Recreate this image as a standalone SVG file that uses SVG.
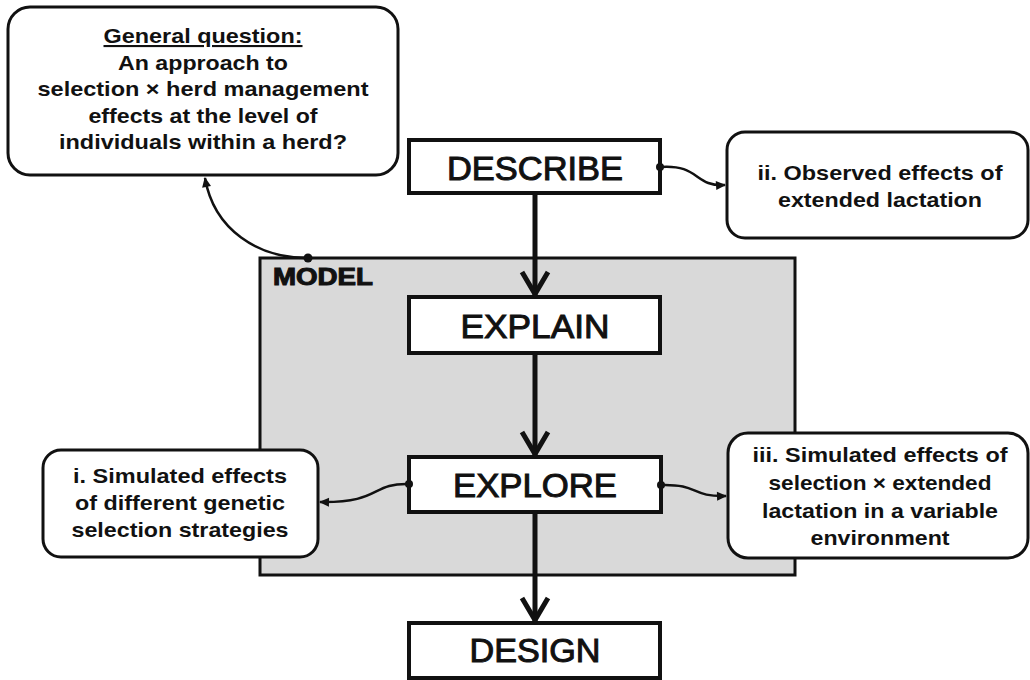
<svg xmlns="http://www.w3.org/2000/svg" width="1030" height="680" viewBox="0 0 1030 680">
<defs>
<style>
.rbox{fill:#fff;stroke:#111;stroke-width:3}
.mbox{fill:#fff;stroke:#111;stroke-width:4}
.t{font-family:"Liberation Sans",Arial,sans-serif;font-weight:bold;font-size:21px;fill:#111;text-anchor:middle}
.big{font-family:"Liberation Sans",Arial,sans-serif;font-weight:normal;font-size:33px;fill:#111;text-anchor:middle;stroke:#111;stroke-width:1}
.thin{fill:none;stroke:#111;stroke-width:2.5}
.thick{fill:none;stroke:#111;stroke-width:5}
</style>
<marker id="chev" viewBox="-30 -20 40 40" markerWidth="40" markerHeight="40" refX="0" refY="0" orient="auto" markerUnits="userSpaceOnUse">
<path d="M-23,-13 L-1,0 L-23,13" fill="none" stroke="#111" stroke-width="5" stroke-linejoin="miter"/>
</marker>
<marker id="tri" viewBox="-12 -8 16 16" markerWidth="16" markerHeight="16" refX="0" refY="0" orient="auto" markerUnits="userSpaceOnUse">
<path d="M-9,-4.5 L1,0 L-9,4.5 Z" fill="#111"/>
</marker>
</defs>
<rect width="1030" height="680" fill="#fff"/>

<g id="model">
<rect x="260" y="258" width="535" height="317" fill="#d9d9d9" stroke="#111" stroke-width="3"/>
<text x="273" y="285" font-family="'Liberation Sans',Arial,sans-serif" font-weight="bold" font-size="23" fill="#111" stroke="#111" stroke-width="1" textLength="100" lengthAdjust="spacingAndGlyphs">MODEL</text>
</g>

<g id="general-question">
<rect class="rbox" x="8" y="7" width="390" height="168" rx="22"/>
<text class="t" x="203" y="43" textLength="199" lengthAdjust="spacingAndGlyphs" text-decoration="underline">General question:</text>
<text class="t" x="203" y="69.5" textLength="170" lengthAdjust="spacingAndGlyphs">An approach to</text>
<text class="t" x="203" y="96" textLength="331" lengthAdjust="spacingAndGlyphs">selection × herd management</text>
<text class="t" x="203" y="122.5" textLength="229" lengthAdjust="spacingAndGlyphs">effects at the level of</text>
<text class="t" x="203" y="149" textLength="288" lengthAdjust="spacingAndGlyphs">individuals within a herd?</text>
</g>

<g id="describe">
<rect class="mbox" x="409" y="140" width="251" height="53"/>
<text class="big" x="535" y="180" textLength="176" lengthAdjust="spacingAndGlyphs">DESCRIBE</text>
</g>

<g id="observed">
<rect class="rbox" x="727" y="132" width="301" height="106" rx="18"/>
<text class="t" x="880" y="180" textLength="245" lengthAdjust="spacingAndGlyphs">ii. Observed effects of</text>
<text class="t" x="880" y="207" textLength="204" lengthAdjust="spacingAndGlyphs">extended lactation</text>
</g>

<g id="explain">
<rect class="mbox" x="409" y="297" width="251" height="56"/>
<text class="big" x="535" y="338" textLength="149" lengthAdjust="spacingAndGlyphs">EXPLAIN</text>
</g>

<g id="explore">
<rect class="mbox" x="409" y="457" width="252" height="55"/>
<text class="big" x="535" y="497" textLength="164" lengthAdjust="spacingAndGlyphs">EXPLORE</text>
</g>

<g id="simulated-genetic">
<rect class="rbox" x="43" y="450" width="275" height="107" rx="18"/>
<text class="t" x="180" y="483" textLength="214" lengthAdjust="spacingAndGlyphs">i. Simulated effects</text>
<text class="t" x="180" y="510" textLength="210" lengthAdjust="spacingAndGlyphs">of different genetic</text>
<text class="t" x="180" y="537" textLength="217" lengthAdjust="spacingAndGlyphs">selection strategies</text>
</g>

<g id="simulated-lactation">
<rect class="rbox" x="728" y="433" width="300" height="125" rx="20"/>
<text class="t" x="880" y="462" textLength="255" lengthAdjust="spacingAndGlyphs">iii. Simulated effects of</text>
<text class="t" x="880" y="490" textLength="223" lengthAdjust="spacingAndGlyphs">selection × extended</text>
<text class="t" x="880" y="518" textLength="236" lengthAdjust="spacingAndGlyphs">lactation in a variable</text>
<text class="t" x="880" y="545" textLength="139" lengthAdjust="spacingAndGlyphs">environment</text>
</g>

<g id="design">
<rect class="mbox" x="409" y="623" width="251" height="55"/>
<text class="big" x="535" y="662" textLength="131" lengthAdjust="spacingAndGlyphs">DESIGN</text>
</g>

<g id="connectors">
<line class="thick" x1="535" y1="193" x2="535" y2="295" marker-end="url(#chev)"/>
<line class="thick" x1="535" y1="353" x2="535" y2="455" marker-end="url(#chev)"/>
<line class="thick" x1="535" y1="512" x2="535" y2="621" marker-end="url(#chev)"/>
<path class="thin" d="M308,258 C258,258 214,230 205,178" marker-end="url(#tri)"/>
<circle cx="308" cy="258" r="4.5" fill="#111"/>
<path class="thin" d="M660,167 C700,164 694,187 725,185" marker-end="url(#tri)"/>
<circle cx="660" cy="167" r="4" fill="#111"/>
<path class="thin" d="M409,484 C370,483 382,503 320,502" marker-end="url(#tri)"/>
<circle cx="409" cy="484" r="4" fill="#111"/>
<path class="thin" d="M661,485 C700,484 690,497 726,496" marker-end="url(#tri)"/>
<circle cx="661" cy="485" r="4" fill="#111"/>
</g>
</svg>
